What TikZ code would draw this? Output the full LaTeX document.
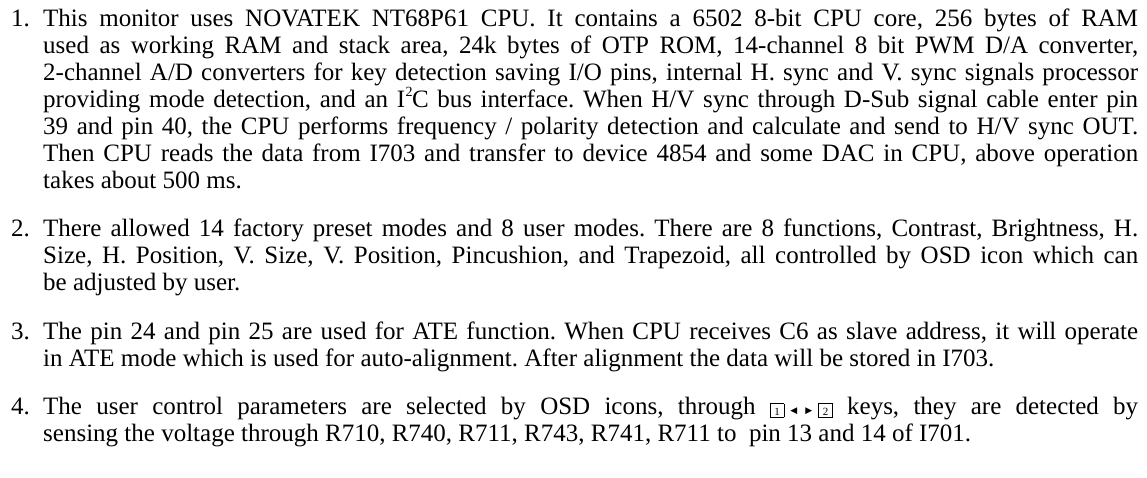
\documentclass[tikz,border=0pt]{standalone}
\usepackage{fontspec}
\setmainfont{Liberation Serif}
\newfontfamily\symfont{DejaVu Sans}
\usepackage{graphicx}
\frenchspacing
\newlength\linew \setlength\linew{1095pt}
\newlength\natw
\newcommand\jline[1]{\settowidth\natw{\spaceskip=0.16em\relax#1}%
  \ifdim\natw>\linew\resizebox{\linew}{\height}{\spaceskip=0.16em\relax#1}%
  \else\hbox to\linew{\spaceskip=0.25em plus 1em minus 0.09em\relax#1}\fi}
\newcommand\keyb[1]{\raisebox{-2.5pt}{\setlength\fboxsep{0pt}\setlength\fboxrule{0.8pt}\fbox{\makebox[13pt][c]{\rule{0pt}{13pt}\raisebox{2pt}{\fontsize{11}{11}\selectfont #1}}}}}
\newcommand\tris{{\symfont\fontsize{9}{9}\selectfont\raisebox{1pt}{◀}\hspace{8pt}\raisebox{1pt}{▶}}}
\newcommand\sqtwo{\kern0.5pt\raisebox{0.42em}{\fontsize{14}{14}\selectfont 2}\kern-0.5pt}
\tikzset{
  txt/.style={anchor=base west, inner sep=0pt, font=\fontsize{25}{27}\selectfont},
  num/.style={anchor=base west, inner sep=0pt, font=\fontsize{25}{27}\selectfont}
}
\begin{document}
\begin{tikzpicture}[x=1pt,y=-1pt]
\useasboundingbox[fill=white] (0,0) rectangle (1147,477);
% item 1
\node[num] (n1) at (11,26) {1.};
\node[txt] (a1) at (43,26) {\jline{This monitor uses NOVATEK NT68P61 CPU. It contains a 6502 8-bit CPU core, 256 bytes of RAM}};
\node[txt] (a2) at (43,53) {\jline{used as working RAM and stack area, 24k bytes of OTP ROM, 14-channel 8 bit PWM D/A converter,}};
\node[txt] (a3) at (43,80) {\jline{2-channel A/D converters for key detection saving I/O pins, internal H. sync and V. sync signals processor}};
\node[txt] (a4) at (43,107) {\jline{providing mode detection, and an I\sqtwo C bus interface. When H/V sync through D-Sub signal cable enter pin}};
\node[txt] (a5) at (43,134) {\jline{39 and pin 40, the CPU performs frequency / polarity detection and calculate and send to H/V sync OUT.}};
\node[txt] (a6) at (43,161) {\jline{Then CPU reads the data from I703 and transfer to device 4854 and some DAC in CPU, above operation}};
\node[txt] (a7) at (43,188) {takes about 500 ms.};
% item 2
\node[num] (n2) at (11,236.5) {2.};
\node[txt] (b1) at (43,236.5) {\jline{There allowed 14 factory preset modes and 8 user modes. There are 8 functions, Contrast, Brightness, H.}};
\node[txt] (b2) at (43,263.5) {\jline{Size, H. Position, V. Size, V. Position, Pincushion, and Trapezoid, all controlled by OSD icon which can}};
\node[txt] (b3) at (43,290.5) {be adjusted by user.};
% item 3
\node[num] (n3) at (11,339) {3.};
\node[txt] (c1) at (43,339) {\jline{The pin 24 and pin 25 are used for ATE function. When CPU receives C6 as slave address, it will operate}};
\node[txt] (c2) at (43,366) {in ATE mode which is used for auto-alignment. After alignment the data will be stored in I703.};
% item 4
\node[num] (n4) at (11,414.5) {4.};
\node[txt] (d1) at (43,414.5) {\jline{The user control parameters are selected by OSD icons, through \mbox{\keyb{1}\hspace{6pt}\tris\hspace{6pt}\keyb{2}} keys, they are detected by}};
\node[txt] (d2) at (43,441.5) {sensing the voltage through R710, R740, R711, R743, R741, R711 to\ \ pin 13 and 14 of I701.};
\end{tikzpicture}
\end{document}
